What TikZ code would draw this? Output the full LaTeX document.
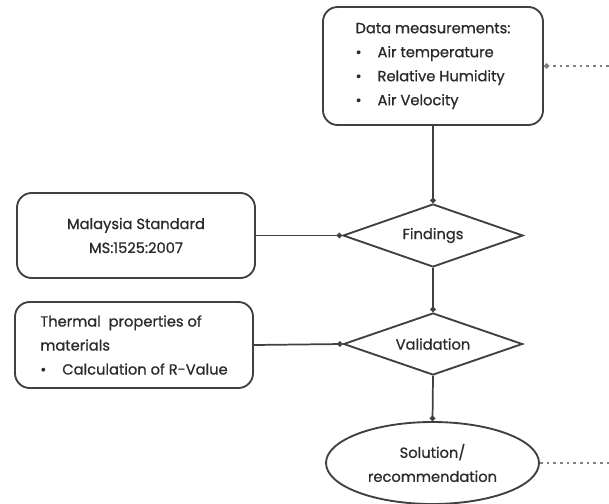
\documentclass[tikz,border=0pt]{standalone}
\usepackage{fontspec}
\setmainfont{Poppins}[FakeBold=0.8]
\usetikzlibrary{shapes.geometric,arrows.meta}
\definecolor{linegray}{HTML}{404040}
\definecolor{textgray}{HTML}{2A2A2A}

\begin{document}
\begin{tikzpicture}[x=0.75pt, y=-0.75pt,
    every node/.style={text=textgray, font=\fontsize{11}{18}\selectfont},
    roundbox/.style={draw=linegray, line width=1.4pt, rounded corners=11pt, align=left},
    decision/.style={draw=linegray, line width=1.4pt, diamond, shape aspect=2.8, inner sep=0pt},
    conn/.style={draw=linegray, line width=1.3pt, -{Circle[length=4pt]}},
    dots/.style={draw=gray, line width=1.3pt, dash pattern=on 2pt off 3pt}]

    \useasboundingbox (0,0) rectangle (609,503);

    % Data measurements box at the top
    \node[roundbox, minimum width=165pt, minimum height=88.5pt] (data) at (433,66)
        {Data measurements:\\
         \textbullet\hspace{12pt}Air temperature\\
         \textbullet\hspace{12pt}Relative Humidity\\
         \textbullet\hspace{12pt}Air Velocity};

    % Boxes on the left
    \node[roundbox, align=center, minimum width=178.5pt, minimum height=63.75pt] (msbox) at (136,235.5)
        {Malaysia Standard\\ MS:1525:2007};
    \node[roundbox, minimum width=178.5pt, minimum height=64.5pt] (thermal) at (134,345)
        {Thermal\ \ properties of\\ materials\\
         \textbullet\hspace{12pt}Calculation of R-Value};

    % Decisions in the middle
    \node[decision, minimum width=135pt, minimum height=47.25pt] (find) at (433,235.5) {Findings};
    \node[decision, minimum width=134.25pt, minimum height=46.5pt] (valid) at (433,344) {Validation};

    % Solution ellipse at the bottom
    \node[ellipse, draw=linegray, line width=1.4pt, align=center, minimum width=159.75pt, minimum height=61.5pt] (sol) at (432.5,463)
        {Solution/\\ recommendation};

    % Connectors
    \draw[conn] (data.south) -- (find.north);
    \draw[conn] (find.south) -- (valid.north);
    \draw[conn] (valid.south) -- (sol.north);
    \draw[conn] (msbox.east) -- (find.west);
    \draw[conn] (thermal.east) -- (valid.west);

    % Dotted lines leaving on the right
    \coordinate (fromright) at (609,66);
    \coordinate (toright) at (609,463);
    \draw[dots, -{Circle[length=4pt]}] (fromright) -- (data.east);
    \draw[dots] (sol.east) -- (toright);

\end{tikzpicture}
\end{document}
